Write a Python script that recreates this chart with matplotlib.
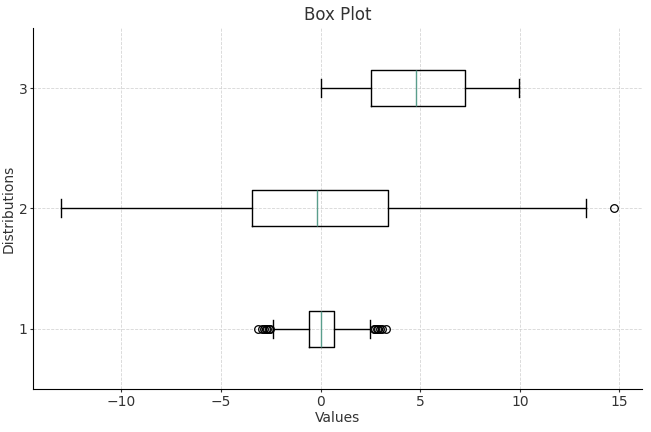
import matplotlib
matplotlib.use("Agg")
import matplotlib.pyplot as plt

# Box statistics (one entry per distribution)
labels = ["1", "2", "3"]
whisker_low = [-2.40, -13.04, 0.03]
q1 = [-0.57, -3.43, 2.52]
medians = [0.01, -0.17, 4.80]
q3 = [0.65, 3.40, 7.26]
whisker_high = [2.46, 13.32, 9.98]
outliers = [
    [-3.14, -2.92, -2.84, -2.76, -2.68, -2.60, -2.52,
     2.66, 2.74, 2.82, 2.90, 2.98, 3.08, 3.28],
    [14.74],
    [],
]

text_color = "#333333"
plt.rcParams["font.family"] = "DejaVu Sans"
plt.rcParams["text.color"] = text_color
plt.rcParams["axes.labelcolor"] = text_color
plt.rcParams["xtick.color"] = text_color
plt.rcParams["ytick.color"] = text_color

stats = []
for i in range(len(labels)):
    stats.append({
        "label": labels[i],
        "whislo": whisker_low[i],
        "q1": q1[i],
        "med": medians[i],
        "q3": q3[i],
        "whishi": whisker_high[i],
        "fliers": outliers[i],
    })

fig = plt.figure(figsize=(6.51, 4.32), dpi=100)
ax = fig.add_axes([0.051, 0.0995, 0.935, 0.836])

ax.bxp(stats, vert=False, widths=0.3,
       boxprops=dict(color="black", linewidth=1),
       whiskerprops=dict(color="black", linewidth=1),
       capprops=dict(color="black", linewidth=1),
       medianprops=dict(color="#5a9e8c", linewidth=1),
       flierprops=dict(marker="o", markerfacecolor="none",
                       markeredgecolor="black", markersize=5.5,
                       markeredgewidth=0.9))

ax.set_title("Box Plot", fontsize=12, pad=6)
ax.set_xlabel("Values", fontsize=10, labelpad=2)
ax.set_ylabel("Distributions", fontsize=10, labelpad=2)
ax.tick_params(labelsize=10, length=2, pad=2)
ax.grid(True, linestyle="--", linewidth=0.6, color="#cccccc", alpha=0.8)
ax.set_axisbelow(True)
for side in ["top", "right"]:
    ax.spines[side].set_visible(False)

fig.savefig("out.png", dpi=100)
